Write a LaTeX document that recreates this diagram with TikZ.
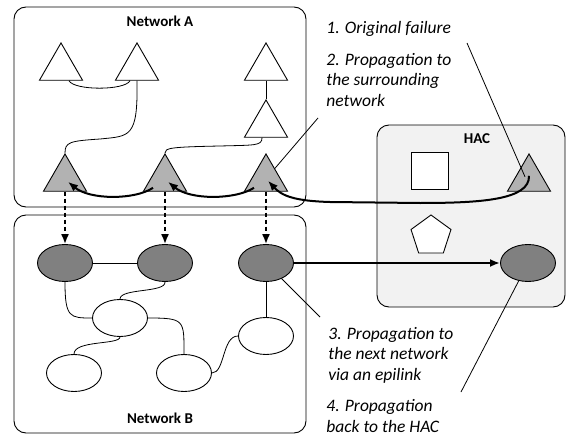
\documentclass[tikz,border=0pt]{standalone}
\usepackage{fontspec}
\setmainfont{Carlito}
\usetikzlibrary{arrows.meta,shapes.geometric,calc}

\begin{document}
\begin{tikzpicture}[x=1pt,y=-1pt,line width=0.8pt,
  box/.style={draw,rounded corners=12pt,line width=0.9pt},
  tri/.style={draw,regular polygon,regular polygon sides=3,minimum size=49.7pt,inner sep=0pt,line width=0.9pt,fill=white},
  ftri/.style={tri,fill=black!30},
  ell/.style={draw,ellipse,minimum width=55pt,minimum height=37pt,inner sep=0pt,line width=0.9pt,fill=white},
  fell/.style={ell,fill=black!50},
  flow/.style={line width=2pt,-{Latex[length=10pt,width=8pt]}},
  link/.style={line width=1.6pt,dash pattern=on 4pt off 3pt,-{Latex[length=10pt,width=8pt]}},
  title/.style={font=\bfseries\fontsize{15}{18}\selectfont,anchor=base},
  note/.style={font=\itshape\fontsize{17.5}{20.5}\selectfont,align=left,anchor=base west,inner sep=0pt}]
\useasboundingbox (0,0) rectangle (566,439);

\draw[box] (14,7) rectangle (306,207);
\draw[box] (14,215) rectangle (306,433);
\draw[box,fill=black!5] (377,125) rectangle (565,307);
\node[title] (na) at (160,27) {Network A};
\node[title] (nb) at (160,423) {Network B};
\node[title] (hac) at (477,143) {HAC};

\node[tri] (t1) at (61,67.8) {};
\node[tri] (t2) at (137,67.8) {};
\node[tri] (t3) at (266,67.8) {};
\node[tri] (t4) at (266,124.8) {};
\node[ftri] (g1) at (65,178.8) {};
\node[ftri] (g2) at (165,178.8) {};
\node[ftri] (g3) at (266,178.8) {};
\node[ftri] (hg) at (529,178.8) {};
\node[draw,minimum size=37pt,inner sep=0pt,line width=0.9pt,fill=white] (sq) at (430,171) {};
\node[draw,regular polygon,regular polygon sides=5,minimum size=42pt,inner sep=0pt,line width=0.9pt,fill=white] (pe) at (431,236) {};

\node[fell] (e1) at (65,263) {};
\node[fell] (e2) at (165,263) {};
\node[fell] (e3) at (266,263) {};
\node[fell] (he) at (528,263) {};
\node[ell] (e4) at (120,318) {};
\node[ell] (e5) at (74,373) {};
\node[ell] (e6) at (184,373) {};
\node[ell] (e7) at (266,336) {};

\draw ($(t1.south)+(8,0)$) .. controls +(5,10) and +(-5,10) .. ($(t2.south)+(-7,0)$);
\draw (t2.south) .. controls (138,138) and (130,136) .. (100,139) .. controls (70,141) and (65,142) .. (g1.corner 1);
\draw (t3.south) -- (t4.corner 1);
\draw ($(t4.south)+(-4,0)$) .. controls (262,146) and (255,145) .. (220,146) .. controls (170,147) and (165,148) .. (g2.corner 1);

\draw (e1.east) -- (e2.west);
\draw (e1.south) .. controls (65,318) and (70,318) .. (e4.west);
\draw (e2.south) .. controls (166,293) and (120,288) .. (e4.north);
\draw (e4.east) .. controls (185,318) and (184,320) .. (e6.north);
\draw (e4.south) .. controls (120,345) and (74,340) .. (e5.north);
\draw (e6.east) .. controls (225,373) and (222,336) .. (e7.west);
\draw (e3.south) -- (e7.north);

\draw[link] (g1.south) -- (e1.north);
\draw[link] (g2.south) -- (e2.north);
\draw[link] (g3.south) -- (e3.north);

\draw[flow] ($(hg.center)+(0,-3)$) .. controls (530,200) and (480,203) .. (420,203) -- (330,202) .. controls (295,201) and (282,196) .. ($(g3.center)+(2,2)$);
\draw[flow] ($(g3.center)+(-12,9)$) .. controls (235,200) and (190,200) .. ($(g2.center)+(3,3)$);
\draw[flow] ($(g2.center)+(-12,9)$) .. controls (135,200) and (90,200) .. ($(g1.center)+(3,3)$);
\draw[flow] (e3.east) -- (he.west);

\coordinate (c1) at (467,43);
\coordinate (c2) at (318,118);
\coordinate (c3) at (320,317);
\coordinate (c4) at (461,392);
\draw (c1) -- ($(hg.center)+(-4,-2)$);
\draw (c2) -- (g3);
\draw (e3) -- (c3);
\draw (he) -- (c4);

\node[note] (n1) at (326,33) {1. Original failure};
\node[note] (n2) at (326,106) {2. Propagation to\\the surrounding\\network};
\node[note] (n3) at (328,380) {3. Propagation to\\the next network\\via an epilink};
\node[note] (n4) at (326,432) {4. Propagation\\back to the HAC};
\end{tikzpicture}
\end{document}
